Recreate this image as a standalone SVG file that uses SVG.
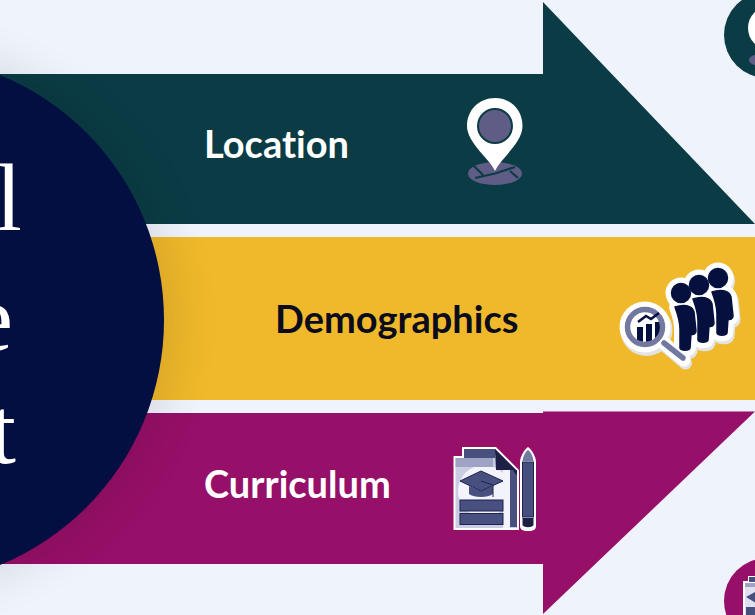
<svg xmlns="http://www.w3.org/2000/svg" width="755" height="615" viewBox="0 0 755 615">
<defs>
<filter id="soft" x="-30%" y="-30%" width="160%" height="160%"><feGaussianBlur stdDeviation="24"/></filter>
<clipPath id="tc"><circle cx="767" cy="35" r="43"/></clipPath>
<clipPath id="pc"><circle cx="767" cy="601" r="43"/></clipPath>
<clipPath id="lens"><circle cx="645" cy="327" r="15"/></clipPath>
<g id="person"><circle cx="0" cy="0" r="9.500"/><path d="M-6 14C2 11 11 12 13 19L15 38C15 41 12 42 10 41L9 55C8 58 0 58 -1 55L-1 36C-1 28 -3 22 -6 14Z"/></g>
</defs>
<style>
.lbl{font-family:"Lato","Liberation Sans",sans-serif;font-weight:700;font-size:38px;font-variant-ligatures:none}
.big{font-family:"Liberation Serif",serif;font-size:95px;fill:#fff}
.p-out{fill:#fff;stroke:#fff;stroke-width:12;stroke-linejoin:round}
.p-sh{fill:#e3e3e3;stroke:#e3e3e3;stroke-width:12;stroke-linejoin:round}
.p-in{fill:#05103f;stroke:#05103f;stroke-width:1.500;stroke-linejoin:round}
</style>
<rect width="755" height="615" fill="#eff3fb"/>
<g id="connectors">
<path id="arrow-location" d="M0 74H543V2L755 224H0Z" fill="#0b3c45"/>
<rect id="band-demographics" x="0" y="237" width="755" height="163" fill="#f0b92b"/>
<path id="arrow-curriculum" d="M0 413H543V411.500H755L543 614V564H0Z" fill="#960f68"/>
</g>
<circle cx="-95" cy="320" r="270" fill="#000" opacity="0.1" filter="url(#soft)"/>
<g id="node-hub">
<circle cx="-101" cy="320" r="265" fill="#030f40"/>
<text class="big" x="22" y="230" text-anchor="end">l</text>
<text class="big" x="13" y="350" text-anchor="end">e</text>
<text class="big" x="16" y="463" text-anchor="end">t</text>
</g>
<g id="node-location">
<text class="lbl" x="204" y="158" fill="#fff">Location</text>
<g id="pin">
<ellipse cx="495" cy="173.500" rx="27" ry="11.500" fill="#5f5c86"/>
<path d="M473 165L483 175M475 178L495 173.500L515 167M510 171L518 178" fill="none" stroke="#0b3c45" stroke-width="2.200"/>
<path d="M495 171C490 159 467 143 467 126C467 110 479 98 495 98C511 98 522.500 110 522.500 126C522.500 143 500 159 495 171Z" fill="#fff"/>
<circle cx="495" cy="126" r="17" fill="#5f5c86" stroke="#0b3c45" stroke-width="2"/>
</g>
</g>
<g id="node-demographics">
<text class="lbl" x="275" y="333" fill="#0a0c1e">Demographics</text>
<g id="people">
<g transform="translate(1.500 3)">
<use href="#person" x="718" y="278" class="p-sh"/>
<use href="#person" x="699" y="285" class="p-sh"/>
<use href="#person" x="681" y="293" class="p-sh"/>
<path d="M645 327L684 360" stroke="#e3e3e3" stroke-width="13" stroke-linecap="round"/>
<circle cx="645" cy="327" r="26" fill="#e3e3e3"/>
</g>
<use href="#person" x="718" y="278" class="p-out"/>
<use href="#person" x="699" y="285" class="p-out"/>
<use href="#person" x="681" y="293" class="p-out"/>
<path d="M645 327L684 360" stroke="#fff" stroke-width="13" stroke-linecap="round"/>
<circle cx="645" cy="327" r="25.500" fill="#fff"/>
<use href="#person" x="718" y="278" class="p-in"/>
<use href="#person" x="699" y="285" class="p-in"/>
<use href="#person" x="681" y="293" class="p-in"/>
<circle cx="645" cy="327" r="25" fill="#fff"/>
<path d="M664 343L683 358" stroke="#7378a0" stroke-width="5.500" stroke-linecap="round"/>
<circle cx="645" cy="327" r="17.500" fill="#fff" stroke="#7378a0" stroke-width="5.500"/>
<g clip-path="url(#lens)">
<path d="M637 327H643V345H637ZM646 324H652V345H646ZM655 322H661V345H655Z" fill="#05103f"/>
</g>
<path d="M638 322L646 316L651 319L659 313" fill="none" stroke="#05103f" stroke-width="2.500"/>
</g>
</g>
<g id="node-curriculum">
<text class="lbl" x="204" y="498" fill="#fff">Curriculum</text>
<g id="doc">
<path d="M453.500 456H462V447H496L519 470V530H453.500Z" fill="#fff"/>
<path d="M464 449H495V480H464Z" fill="#47507e"/>
<path d="M455.500 458H495L517 480V528H455.500Z" fill="#c9cce2"/>
<circle cx="484" cy="491" r="26" fill="#f2f3fb"/>
<path d="M503 470H510V528H503Z" fill="#f2f3fb"/>
<path d="M455.500 458H493V467H455.500Z" fill="#9ea3c4"/>
<path d="M510 470H517V527H510Z" fill="#47507e"/>
<path d="M495 449L517 471V476L513 470H497Z" fill="#1d1f45"/>
<path d="M495 449L517 471L516 470H496Z" fill="#1d1f45"/>
<path d="M469 486V494C474 498 488 498 493 494V486L481 491Z" fill="#47507e"/>
<path d="M481 471L503 481L481 491L460 481Z" fill="#47507e" stroke="#20234e" stroke-width="1"/>
<path d="M481 481L493 485V497" fill="none" stroke="#20234e" stroke-width="1"/>
<rect x="460" y="500" width="43" height="11" fill="#47507e" stroke="#20234e"/>
<rect x="460" y="513.500" width="43" height="11" fill="#47507e" stroke="#20234e"/>
<path d="M528 447C531 449 536 456 536 462V526C536 529 534 531 528 531C522 531 520 529 520 526V462C520 456 525 449 528 447Z" fill="#fff"/>
<path d="M528 450C530 451 533 456 533.500 461H522.500C523 456 526 451 528 450Z" fill="#7378a0"/>
<rect x="522.500" y="462" width="11" height="55" fill="#47507e" stroke="#20234e"/>
<path d="M522.500 518H533.500V525C532 528 524 528 522.500 525Z" fill="#1d1f45"/>
</g>
</g>
<g id="node-top-circle">
<circle cx="767" cy="35" r="43" fill="#0b3c45"/>
<g clip-path="url(#tc)">
<circle cx="770" cy="28" r="22" fill="#fff"/>
<ellipse cx="761" cy="60" rx="12" ry="6" fill="#5f5c86"/>
</g>
</g>
<g id="node-bottom-circle">
<circle cx="767" cy="601" r="43" fill="#960f68"/>
<g clip-path="url(#pc)">
<path d="M743 581H748V576H767V615H743Z" fill="#fff"/>
<path d="M749 577H767V582H749Z" fill="#47507e"/>
<path d="M745 583H767V615H745Z" fill="#dfe1ee"/>
<path d="M745 583H767V587H745Z" fill="#9ea3c4"/>
<path d="M746 597L755 592L767 595V600L756 603Z" fill="#47507e"/>
<rect x="746" y="607" width="21" height="8" fill="#47507e"/>
</g>
</g>
</svg>
